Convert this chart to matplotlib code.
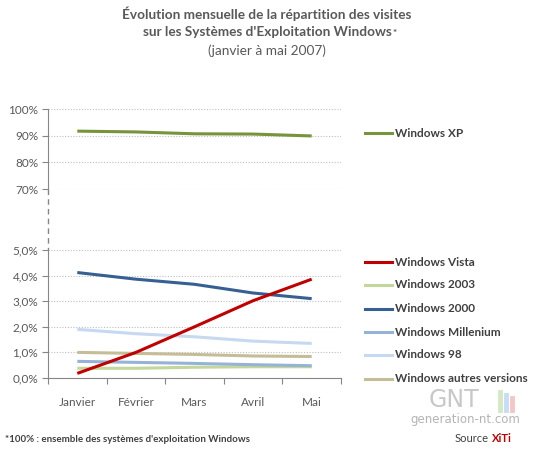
import matplotlib
matplotlib.use("Agg")
import matplotlib.pyplot as plt
from matplotlib.lines import Line2D

plt.rcParams['font.family'] = ['Lato', 'DejaVu Sans']

mois = ["Janvier", "Février", "Mars", "Avril", "Mai"]

xp = [91.7, 91.4, 90.7, 90.6, 89.9]

vista = [0.18, 1.0, 2.0, 3.02, 3.86]
w2003 = [0.38, 0.38, 0.42, 0.44, 0.44]
w2000 = [4.12, 3.86, 3.66, 3.32, 3.10]
millenium = [0.65, 0.61, 0.57, 0.52, 0.48]
w98 = [1.90, 1.73, 1.61, 1.44, 1.35]
autres = [1.00, 0.96, 0.92, 0.86, 0.84]

bas_series = [
    ("Windows Vista", vista, "#C00000"),
    ("Windows 2003", w2003, "#C3D69B"),
    ("Windows 2000", w2000, "#376092"),
    ("Windows Millenium", millenium, "#95B3D7"),
    ("Windows 98", w98, "#C6D9F1"),
    ("Windows autres versions", autres, "#C4BD97"),
]
# ordre de dessin (du fond vers le dessus)
ordre = ["Windows 98", "Windows autres versions", "Windows 2003",
         "Windows Millenium", "Windows 2000", "Windows Vista"]

top_ticks = [70, 80, 90, 100]
top_labels = ["70%", "80%", "90%", "100%"]
bas_ticks = [0, 1, 2, 3, 4, 5]
bas_labels = ["0,0%", "1,0%", "2,0%", "3,0%", "4,0%", "5,0%"]

W, H = 534, 449
fig = plt.figure(figsize=(W / 100, H / 100), dpi=100)
fig.patch.set_facecolor("white")

def px(x0, y0, x1, y1):
    return [x0 / W, 1 - y1 / H, (x1 - x0) / W, (y1 - y0) / H]

gris_axe = "#868686"
gris_txt = "#595959"
lw = 2.2
x = list(range(len(mois)))

ax_top = fig.add_axes(px(48, 109, 341, 189))
ax_bas = fig.add_axes(px(48, 250, 341, 378))

for ax in (ax_top, ax_bas):
    ax.set_xlim(-0.5, 4.5)
    for s in ("top", "right"):
        ax.spines[s].set_visible(False)
    ax.spines["left"].set_color(gris_axe)
    ax.spines["bottom"].set_color(gris_axe)
    ax.tick_params(axis="y", colors=gris_axe, labelcolor=gris_txt,
                   labelsize=8.5, length=4, direction="out", pad=3)
    ax.yaxis.grid(True, linestyle=(0, (1, 1.5)), color="#BFBFBF", linewidth=0.8)
    ax.set_axisbelow(True)

# partie haute
ax_top.spines["bottom"].set_visible(False)
ax_top.set_ylim(70, 100)
ax_top.set_yticks(top_ticks)
ax_top.set_yticklabels(top_labels)
ax_top.set_xticks([])
ax_top.plot(x, xp, color="#77933C", linewidth=lw, solid_capstyle="butt")

# partie basse
ax_bas.set_ylim(0, 5)
ax_bas.set_yticks(bas_ticks)
ax_bas.set_yticklabels(bas_labels)
ax_bas.set_xticks([i - 0.5 for i in range(len(mois) + 1)])
ax_bas.set_xticklabels([])
ax_bas.set_xticks(x, minor=True)
ax_bas.set_xticklabels(mois, minor=True)
ax_bas.tick_params(axis="x", which="major", colors=gris_axe, length=4)
ax_bas.tick_params(axis="x", which="minor", length=0, labelcolor=gris_txt,
                   labelsize=8.5, pad=14)

couleurs = {n: c for n, _, c in bas_series}
valeurs = {n: v for n, v, _ in bas_series}
for n in ordre:
    ax_bas.plot(x, valeurs[n], color=couleurs[n], linewidth=lw,
                solid_capstyle="butt")

# ligne de coupure en pointillés
fig.add_artist(Line2D([48 / W, 48 / W], [1 - 189 / H, 1 - 250 / H],
                      color=gris_axe, linewidth=1, linestyle=(0, (4, 3))))

# titre
fig.text(0.5, 1 - 14 / H, "Évolution mensuelle de la répartition des visites",
         ha="center", va="center", fontsize=9.8, fontweight="bold", color=gris_txt)
t2 = fig.text(0.5, 1 - 32 / H, "sur les Systèmes d'Exploitation Windows",
              ha="center", va="center", fontsize=9.8, fontweight="bold", color=gris_txt)
fig.text(0.5, 1 - 51 / H, "(janvier à mai 2007)", ha="center", va="center",
         fontsize=9.8, color=gris_txt)

# légende
legende = [("Windows XP", "#77933C", 133)]
ys = [262, 285, 309, 332, 355, 379]
for (n, _, c), yy in zip(bas_series, ys):
    legende.append((n, c, yy))
for n, c, yy in legende:
    fig.add_artist(Line2D([365 / W, 392 / W], [1 - yy / H, 1 - yy / H],
                          color=c, linewidth=lw))
    fig.text(395 / W, 1 - yy / H, n, ha="left", va="center", fontsize=8.5,
             fontweight="bold", color="#404040")

# note et source
fig.text(5 / W, 1 - 439 / H, "*100% : ensemble des systèmes d'exploitation Windows",
         ha="left", va="center", fontsize=7, fontweight="bold", color="#404040")
t_src = fig.text(455 / W, 1 - 438 / H, "Source", ha="left", va="center", fontsize=8,
                 color="#404040")

# petite étoile après le titre, XiTi après "Source"
fig.canvas.draw()
bb = t2.get_window_extent()
fig.text((bb.x1 + 1) / W, (bb.y1 - 7) / H, "*", ha="left", va="center",
         fontsize=7, fontweight="bold", color=gris_txt)
bs = t_src.get_window_extent()
fig.text((bs.x1 + 3) / W, 1 - 438 / H, "XiTi", ha="left", va="center", fontsize=8,
         fontweight="bold", color="#C00000")

# filigrane GNT
fig.text(454 / W, 1 - 400 / H, "GNT", ha="center", va="center", fontsize=17,
         color="#C8C8C8", family="DejaVu Sans")
fig.text(465 / W, 1 - 419 / H, "generation-nt.com", ha="center", va="center",
         fontsize=8.5, color="#B4B4B4", family="DejaVu Sans")
for i, c in enumerate(["#D5E8C4", "#C6DDF5", "#F5C6C6"]):
    fig.add_artist(Line2D([(500 + 6 * i) / W] * 2, [1 - 410 / H, 1 - (392 + 3 * i) / H],
                          color=c, linewidth=3.5))

fig.savefig("out.png", dpi=100, facecolor="white")
